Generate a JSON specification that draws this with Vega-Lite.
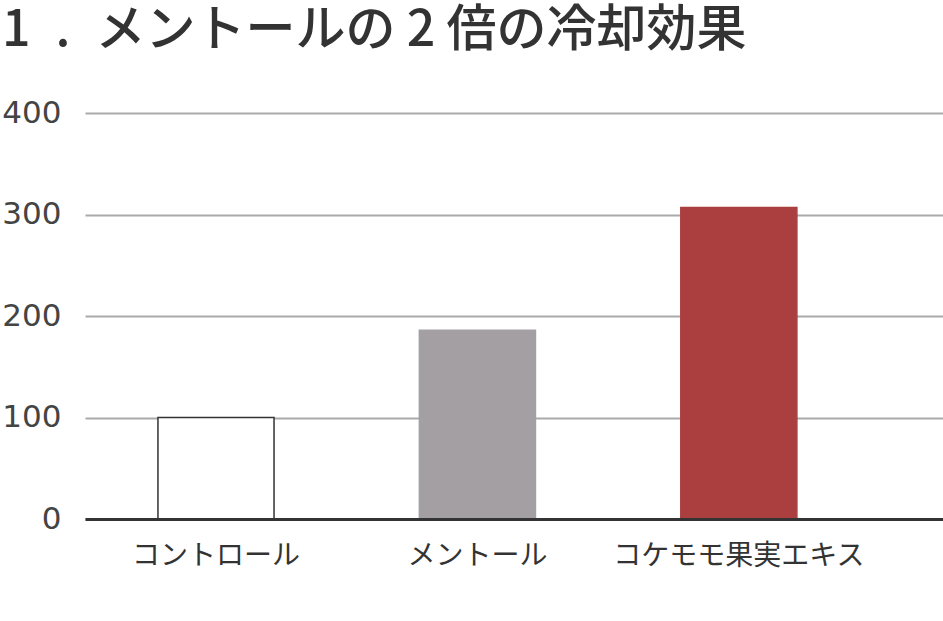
{
  "$schema": "https://vega.github.io/schema/vega-lite/v6.json",
  "autosize": {"type": "none"},
  "width": 858,
  "height": 406,
  "padding": {"left": 85, "top": 113, "right": 0, "bottom": 102},
  "background": "white",
  "title": {
    "text": "1\u2002.\u2002メントールの 2 倍の冷却効果",
    "anchor": "start",
    "frame": "group",
    "dx": -83,
    "font": "Noto Sans CJK JP",
    "fontSize": 50,
    "fontWeight": 500,
    "color": "#333333",
    "baseline": "top",
    "offset": 41
  },
  "data": {
    "values": [
      {"group": "コントロール", "value": 100},
      {"group": "メントール", "value": 186},
      {"group": "コケモモ果実エキス", "value": 307}
    ]
  },
  "mark": {"type": "bar", "strokeWidth": 1.5},
  "encoding": {
    "x": {
      "field": "group",
      "type": "nominal",
      "sort": null,
      "title": null,
      "scale": {"paddingInner": 0.556, "paddingOuter": 0.419, "align": 0.333},
      "axis": {
        "labelAngle": 0,
        "labelFont": "Noto Sans CJK JP",
        "labelFontSize": 28,
        "labelColor": "#333333",
        "labelPadding": 23,
        "labelLimit": 0,
        "ticks": false,
        "domainColor": "#333333",
        "domainWidth": 3,
        "zindex": 1
      }
    },
    "y": {
      "field": "value",
      "type": "quantitative",
      "title": null,
      "scale": {"domain": [0, 400], "nice": false},
      "axis": {
        "values": [0, 100, 200, 300, 400],
        "domain": false,
        "ticks": false,
        "gridColor": "#aaaaaa",
        "gridWidth": 2,
        "labelFont": "DejaVu Sans",
        "labelFontSize": 31,
        "labelColor": "#444444",
        "labelPadding": 24,
        "zindex": 0
      }
    },
    "fill": {
      "field": "group",
      "type": "nominal",
      "sort": null,
      "scale": {"domain": ["コントロール", "メントール", "コケモモ果実エキス"], "range": ["#ffffff", "#a39fa3", "#ab3f3f"]},
      "legend": null
    },
    "stroke": {
      "field": "group",
      "type": "nominal",
      "sort": null,
      "scale": {"domain": ["コントロール", "メントール", "コケモモ果実エキス"], "range": ["#333333", "#a39fa3", "#ab3f3f"]},
      "legend": null
    }
  },
  "config": {"view": {"stroke": null}}
}
